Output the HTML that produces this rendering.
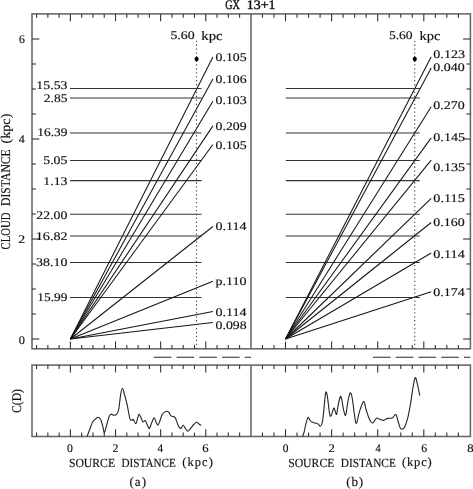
<!DOCTYPE html>
<html><head><meta charset="utf-8"><style>
html,body{margin:0;padding:0;background:#fff;}
svg{display:block;filter:grayscale(1);}
text{font-family:"Liberation Serif", serif;fill:#111;stroke:#111;stroke-width:0.15px;text-rendering:geometricPrecision;}
</style></head><body>
<svg width="473" height="489" viewBox="0 0 473 489">
<rect width="473" height="489" fill="#fff"/>
<rect x="32.0" y="13.9" width="438.40" height="334.90" fill="none" stroke="#6a6a6a" stroke-width="1.6"/>
<line x1="251.00" y1="13.90" x2="251.00" y2="348.80" stroke="#6a6a6a" stroke-width="1.6" />
<rect x="32.0" y="365.1" width="438.40" height="71.40" fill="none" stroke="#6a6a6a" stroke-width="1.6"/>
<line x1="251.00" y1="365.10" x2="251.00" y2="436.50" stroke="#6a6a6a" stroke-width="1.6" />
<line x1="36.56" y1="13.90" x2="36.56" y2="17.80" stroke="#333" stroke-width="1.1" />
<line x1="36.56" y1="348.80" x2="36.56" y2="344.90" stroke="#333" stroke-width="1.1" />
<line x1="36.56" y1="365.10" x2="36.56" y2="369.00" stroke="#333" stroke-width="1.1" />
<line x1="36.56" y1="436.50" x2="36.56" y2="432.60" stroke="#333" stroke-width="1.1" />
<line x1="47.84" y1="13.90" x2="47.84" y2="17.80" stroke="#333" stroke-width="1.1" />
<line x1="47.84" y1="348.80" x2="47.84" y2="344.90" stroke="#333" stroke-width="1.1" />
<line x1="47.84" y1="365.10" x2="47.84" y2="369.00" stroke="#333" stroke-width="1.1" />
<line x1="47.84" y1="436.50" x2="47.84" y2="432.60" stroke="#333" stroke-width="1.1" />
<line x1="59.12" y1="13.90" x2="59.12" y2="17.80" stroke="#333" stroke-width="1.1" />
<line x1="59.12" y1="348.80" x2="59.12" y2="344.90" stroke="#333" stroke-width="1.1" />
<line x1="59.12" y1="365.10" x2="59.12" y2="369.00" stroke="#333" stroke-width="1.1" />
<line x1="59.12" y1="436.50" x2="59.12" y2="432.60" stroke="#333" stroke-width="1.1" />
<line x1="70.40" y1="13.90" x2="70.40" y2="21.20" stroke="#333" stroke-width="1.1" />
<line x1="70.40" y1="348.80" x2="70.40" y2="341.50" stroke="#333" stroke-width="1.1" />
<line x1="70.40" y1="365.10" x2="70.40" y2="372.40" stroke="#333" stroke-width="1.1" />
<line x1="70.40" y1="436.50" x2="70.40" y2="429.20" stroke="#333" stroke-width="1.1" />
<line x1="81.68" y1="13.90" x2="81.68" y2="17.80" stroke="#333" stroke-width="1.1" />
<line x1="81.68" y1="348.80" x2="81.68" y2="344.90" stroke="#333" stroke-width="1.1" />
<line x1="81.68" y1="365.10" x2="81.68" y2="369.00" stroke="#333" stroke-width="1.1" />
<line x1="81.68" y1="436.50" x2="81.68" y2="432.60" stroke="#333" stroke-width="1.1" />
<line x1="92.96" y1="13.90" x2="92.96" y2="17.80" stroke="#333" stroke-width="1.1" />
<line x1="92.96" y1="348.80" x2="92.96" y2="344.90" stroke="#333" stroke-width="1.1" />
<line x1="92.96" y1="365.10" x2="92.96" y2="369.00" stroke="#333" stroke-width="1.1" />
<line x1="92.96" y1="436.50" x2="92.96" y2="432.60" stroke="#333" stroke-width="1.1" />
<line x1="104.24" y1="13.90" x2="104.24" y2="17.80" stroke="#333" stroke-width="1.1" />
<line x1="104.24" y1="348.80" x2="104.24" y2="344.90" stroke="#333" stroke-width="1.1" />
<line x1="104.24" y1="365.10" x2="104.24" y2="369.00" stroke="#333" stroke-width="1.1" />
<line x1="104.24" y1="436.50" x2="104.24" y2="432.60" stroke="#333" stroke-width="1.1" />
<line x1="115.52" y1="13.90" x2="115.52" y2="21.20" stroke="#333" stroke-width="1.1" />
<line x1="115.52" y1="348.80" x2="115.52" y2="341.50" stroke="#333" stroke-width="1.1" />
<line x1="115.52" y1="365.10" x2="115.52" y2="372.40" stroke="#333" stroke-width="1.1" />
<line x1="115.52" y1="436.50" x2="115.52" y2="429.20" stroke="#333" stroke-width="1.1" />
<line x1="126.80" y1="13.90" x2="126.80" y2="17.80" stroke="#333" stroke-width="1.1" />
<line x1="126.80" y1="348.80" x2="126.80" y2="344.90" stroke="#333" stroke-width="1.1" />
<line x1="126.80" y1="365.10" x2="126.80" y2="369.00" stroke="#333" stroke-width="1.1" />
<line x1="126.80" y1="436.50" x2="126.80" y2="432.60" stroke="#333" stroke-width="1.1" />
<line x1="138.08" y1="13.90" x2="138.08" y2="17.80" stroke="#333" stroke-width="1.1" />
<line x1="138.08" y1="348.80" x2="138.08" y2="344.90" stroke="#333" stroke-width="1.1" />
<line x1="138.08" y1="365.10" x2="138.08" y2="369.00" stroke="#333" stroke-width="1.1" />
<line x1="138.08" y1="436.50" x2="138.08" y2="432.60" stroke="#333" stroke-width="1.1" />
<line x1="149.36" y1="13.90" x2="149.36" y2="17.80" stroke="#333" stroke-width="1.1" />
<line x1="149.36" y1="348.80" x2="149.36" y2="344.90" stroke="#333" stroke-width="1.1" />
<line x1="149.36" y1="365.10" x2="149.36" y2="369.00" stroke="#333" stroke-width="1.1" />
<line x1="149.36" y1="436.50" x2="149.36" y2="432.60" stroke="#333" stroke-width="1.1" />
<line x1="160.64" y1="13.90" x2="160.64" y2="21.20" stroke="#333" stroke-width="1.1" />
<line x1="160.64" y1="348.80" x2="160.64" y2="341.50" stroke="#333" stroke-width="1.1" />
<line x1="160.64" y1="365.10" x2="160.64" y2="372.40" stroke="#333" stroke-width="1.1" />
<line x1="160.64" y1="436.50" x2="160.64" y2="429.20" stroke="#333" stroke-width="1.1" />
<line x1="171.92" y1="13.90" x2="171.92" y2="17.80" stroke="#333" stroke-width="1.1" />
<line x1="171.92" y1="348.80" x2="171.92" y2="344.90" stroke="#333" stroke-width="1.1" />
<line x1="171.92" y1="365.10" x2="171.92" y2="369.00" stroke="#333" stroke-width="1.1" />
<line x1="171.92" y1="436.50" x2="171.92" y2="432.60" stroke="#333" stroke-width="1.1" />
<line x1="183.20" y1="13.90" x2="183.20" y2="17.80" stroke="#333" stroke-width="1.1" />
<line x1="183.20" y1="348.80" x2="183.20" y2="344.90" stroke="#333" stroke-width="1.1" />
<line x1="183.20" y1="365.10" x2="183.20" y2="369.00" stroke="#333" stroke-width="1.1" />
<line x1="183.20" y1="436.50" x2="183.20" y2="432.60" stroke="#333" stroke-width="1.1" />
<line x1="194.48" y1="13.90" x2="194.48" y2="17.80" stroke="#333" stroke-width="1.1" />
<line x1="194.48" y1="348.80" x2="194.48" y2="344.90" stroke="#333" stroke-width="1.1" />
<line x1="194.48" y1="365.10" x2="194.48" y2="369.00" stroke="#333" stroke-width="1.1" />
<line x1="194.48" y1="436.50" x2="194.48" y2="432.60" stroke="#333" stroke-width="1.1" />
<line x1="205.76" y1="13.90" x2="205.76" y2="21.20" stroke="#333" stroke-width="1.1" />
<line x1="205.76" y1="348.80" x2="205.76" y2="341.50" stroke="#333" stroke-width="1.1" />
<line x1="205.76" y1="365.10" x2="205.76" y2="372.40" stroke="#333" stroke-width="1.1" />
<line x1="205.76" y1="436.50" x2="205.76" y2="429.20" stroke="#333" stroke-width="1.1" />
<line x1="217.04" y1="13.90" x2="217.04" y2="17.80" stroke="#333" stroke-width="1.1" />
<line x1="217.04" y1="348.80" x2="217.04" y2="344.90" stroke="#333" stroke-width="1.1" />
<line x1="217.04" y1="365.10" x2="217.04" y2="369.00" stroke="#333" stroke-width="1.1" />
<line x1="217.04" y1="436.50" x2="217.04" y2="432.60" stroke="#333" stroke-width="1.1" />
<line x1="228.32" y1="13.90" x2="228.32" y2="17.80" stroke="#333" stroke-width="1.1" />
<line x1="228.32" y1="348.80" x2="228.32" y2="344.90" stroke="#333" stroke-width="1.1" />
<line x1="228.32" y1="365.10" x2="228.32" y2="369.00" stroke="#333" stroke-width="1.1" />
<line x1="228.32" y1="436.50" x2="228.32" y2="432.60" stroke="#333" stroke-width="1.1" />
<line x1="239.60" y1="13.90" x2="239.60" y2="17.80" stroke="#333" stroke-width="1.1" />
<line x1="239.60" y1="348.80" x2="239.60" y2="344.90" stroke="#333" stroke-width="1.1" />
<line x1="239.60" y1="365.10" x2="239.60" y2="369.00" stroke="#333" stroke-width="1.1" />
<line x1="239.60" y1="436.50" x2="239.60" y2="432.60" stroke="#333" stroke-width="1.1" />
<line x1="262.45" y1="13.90" x2="262.45" y2="17.80" stroke="#333" stroke-width="1.1" />
<line x1="262.45" y1="348.80" x2="262.45" y2="344.90" stroke="#333" stroke-width="1.1" />
<line x1="262.45" y1="365.10" x2="262.45" y2="369.00" stroke="#333" stroke-width="1.1" />
<line x1="262.45" y1="436.50" x2="262.45" y2="432.60" stroke="#333" stroke-width="1.1" />
<line x1="273.98" y1="13.90" x2="273.98" y2="17.80" stroke="#333" stroke-width="1.1" />
<line x1="273.98" y1="348.80" x2="273.98" y2="344.90" stroke="#333" stroke-width="1.1" />
<line x1="273.98" y1="365.10" x2="273.98" y2="369.00" stroke="#333" stroke-width="1.1" />
<line x1="273.98" y1="436.50" x2="273.98" y2="432.60" stroke="#333" stroke-width="1.1" />
<line x1="285.50" y1="13.90" x2="285.50" y2="21.20" stroke="#333" stroke-width="1.1" />
<line x1="285.50" y1="348.80" x2="285.50" y2="341.50" stroke="#333" stroke-width="1.1" />
<line x1="285.50" y1="365.10" x2="285.50" y2="372.40" stroke="#333" stroke-width="1.1" />
<line x1="285.50" y1="436.50" x2="285.50" y2="429.20" stroke="#333" stroke-width="1.1" />
<line x1="297.02" y1="13.90" x2="297.02" y2="17.80" stroke="#333" stroke-width="1.1" />
<line x1="297.02" y1="348.80" x2="297.02" y2="344.90" stroke="#333" stroke-width="1.1" />
<line x1="297.02" y1="365.10" x2="297.02" y2="369.00" stroke="#333" stroke-width="1.1" />
<line x1="297.02" y1="436.50" x2="297.02" y2="432.60" stroke="#333" stroke-width="1.1" />
<line x1="308.55" y1="13.90" x2="308.55" y2="17.80" stroke="#333" stroke-width="1.1" />
<line x1="308.55" y1="348.80" x2="308.55" y2="344.90" stroke="#333" stroke-width="1.1" />
<line x1="308.55" y1="365.10" x2="308.55" y2="369.00" stroke="#333" stroke-width="1.1" />
<line x1="308.55" y1="436.50" x2="308.55" y2="432.60" stroke="#333" stroke-width="1.1" />
<line x1="320.07" y1="13.90" x2="320.07" y2="17.80" stroke="#333" stroke-width="1.1" />
<line x1="320.07" y1="348.80" x2="320.07" y2="344.90" stroke="#333" stroke-width="1.1" />
<line x1="320.07" y1="365.10" x2="320.07" y2="369.00" stroke="#333" stroke-width="1.1" />
<line x1="320.07" y1="436.50" x2="320.07" y2="432.60" stroke="#333" stroke-width="1.1" />
<line x1="331.60" y1="13.90" x2="331.60" y2="21.20" stroke="#333" stroke-width="1.1" />
<line x1="331.60" y1="348.80" x2="331.60" y2="341.50" stroke="#333" stroke-width="1.1" />
<line x1="331.60" y1="365.10" x2="331.60" y2="372.40" stroke="#333" stroke-width="1.1" />
<line x1="331.60" y1="436.50" x2="331.60" y2="429.20" stroke="#333" stroke-width="1.1" />
<line x1="343.12" y1="13.90" x2="343.12" y2="17.80" stroke="#333" stroke-width="1.1" />
<line x1="343.12" y1="348.80" x2="343.12" y2="344.90" stroke="#333" stroke-width="1.1" />
<line x1="343.12" y1="365.10" x2="343.12" y2="369.00" stroke="#333" stroke-width="1.1" />
<line x1="343.12" y1="436.50" x2="343.12" y2="432.60" stroke="#333" stroke-width="1.1" />
<line x1="354.65" y1="13.90" x2="354.65" y2="17.80" stroke="#333" stroke-width="1.1" />
<line x1="354.65" y1="348.80" x2="354.65" y2="344.90" stroke="#333" stroke-width="1.1" />
<line x1="354.65" y1="365.10" x2="354.65" y2="369.00" stroke="#333" stroke-width="1.1" />
<line x1="354.65" y1="436.50" x2="354.65" y2="432.60" stroke="#333" stroke-width="1.1" />
<line x1="366.18" y1="13.90" x2="366.18" y2="17.80" stroke="#333" stroke-width="1.1" />
<line x1="366.18" y1="348.80" x2="366.18" y2="344.90" stroke="#333" stroke-width="1.1" />
<line x1="366.18" y1="365.10" x2="366.18" y2="369.00" stroke="#333" stroke-width="1.1" />
<line x1="366.18" y1="436.50" x2="366.18" y2="432.60" stroke="#333" stroke-width="1.1" />
<line x1="377.70" y1="13.90" x2="377.70" y2="21.20" stroke="#333" stroke-width="1.1" />
<line x1="377.70" y1="348.80" x2="377.70" y2="341.50" stroke="#333" stroke-width="1.1" />
<line x1="377.70" y1="365.10" x2="377.70" y2="372.40" stroke="#333" stroke-width="1.1" />
<line x1="377.70" y1="436.50" x2="377.70" y2="429.20" stroke="#333" stroke-width="1.1" />
<line x1="389.23" y1="13.90" x2="389.23" y2="17.80" stroke="#333" stroke-width="1.1" />
<line x1="389.23" y1="348.80" x2="389.23" y2="344.90" stroke="#333" stroke-width="1.1" />
<line x1="389.23" y1="365.10" x2="389.23" y2="369.00" stroke="#333" stroke-width="1.1" />
<line x1="389.23" y1="436.50" x2="389.23" y2="432.60" stroke="#333" stroke-width="1.1" />
<line x1="400.75" y1="13.90" x2="400.75" y2="17.80" stroke="#333" stroke-width="1.1" />
<line x1="400.75" y1="348.80" x2="400.75" y2="344.90" stroke="#333" stroke-width="1.1" />
<line x1="400.75" y1="365.10" x2="400.75" y2="369.00" stroke="#333" stroke-width="1.1" />
<line x1="400.75" y1="436.50" x2="400.75" y2="432.60" stroke="#333" stroke-width="1.1" />
<line x1="412.27" y1="13.90" x2="412.27" y2="17.80" stroke="#333" stroke-width="1.1" />
<line x1="412.27" y1="348.80" x2="412.27" y2="344.90" stroke="#333" stroke-width="1.1" />
<line x1="412.27" y1="365.10" x2="412.27" y2="369.00" stroke="#333" stroke-width="1.1" />
<line x1="412.27" y1="436.50" x2="412.27" y2="432.60" stroke="#333" stroke-width="1.1" />
<line x1="423.80" y1="13.90" x2="423.80" y2="21.20" stroke="#333" stroke-width="1.1" />
<line x1="423.80" y1="348.80" x2="423.80" y2="341.50" stroke="#333" stroke-width="1.1" />
<line x1="423.80" y1="365.10" x2="423.80" y2="372.40" stroke="#333" stroke-width="1.1" />
<line x1="423.80" y1="436.50" x2="423.80" y2="429.20" stroke="#333" stroke-width="1.1" />
<line x1="435.33" y1="13.90" x2="435.33" y2="17.80" stroke="#333" stroke-width="1.1" />
<line x1="435.33" y1="348.80" x2="435.33" y2="344.90" stroke="#333" stroke-width="1.1" />
<line x1="435.33" y1="365.10" x2="435.33" y2="369.00" stroke="#333" stroke-width="1.1" />
<line x1="435.33" y1="436.50" x2="435.33" y2="432.60" stroke="#333" stroke-width="1.1" />
<line x1="446.85" y1="13.90" x2="446.85" y2="17.80" stroke="#333" stroke-width="1.1" />
<line x1="446.85" y1="348.80" x2="446.85" y2="344.90" stroke="#333" stroke-width="1.1" />
<line x1="446.85" y1="365.10" x2="446.85" y2="369.00" stroke="#333" stroke-width="1.1" />
<line x1="446.85" y1="436.50" x2="446.85" y2="432.60" stroke="#333" stroke-width="1.1" />
<line x1="458.38" y1="13.90" x2="458.38" y2="17.80" stroke="#333" stroke-width="1.1" />
<line x1="458.38" y1="348.80" x2="458.38" y2="344.90" stroke="#333" stroke-width="1.1" />
<line x1="458.38" y1="365.10" x2="458.38" y2="369.00" stroke="#333" stroke-width="1.1" />
<line x1="458.38" y1="436.50" x2="458.38" y2="432.60" stroke="#333" stroke-width="1.1" />
<line x1="32.00" y1="339.00" x2="39.30" y2="339.00" stroke="#333" stroke-width="1.1" />
<line x1="470.40" y1="339.00" x2="463.10" y2="339.00" stroke="#333" stroke-width="1.1" />
<line x1="32.00" y1="314.00" x2="35.90" y2="314.00" stroke="#333" stroke-width="1.1" />
<line x1="470.40" y1="314.00" x2="466.50" y2="314.00" stroke="#333" stroke-width="1.1" />
<line x1="32.00" y1="289.00" x2="35.90" y2="289.00" stroke="#333" stroke-width="1.1" />
<line x1="470.40" y1="289.00" x2="466.50" y2="289.00" stroke="#333" stroke-width="1.1" />
<line x1="32.00" y1="264.00" x2="35.90" y2="264.00" stroke="#333" stroke-width="1.1" />
<line x1="470.40" y1="264.00" x2="466.50" y2="264.00" stroke="#333" stroke-width="1.1" />
<line x1="32.00" y1="239.00" x2="39.30" y2="239.00" stroke="#333" stroke-width="1.1" />
<line x1="470.40" y1="239.00" x2="463.10" y2="239.00" stroke="#333" stroke-width="1.1" />
<line x1="32.00" y1="214.00" x2="35.90" y2="214.00" stroke="#333" stroke-width="1.1" />
<line x1="470.40" y1="214.00" x2="466.50" y2="214.00" stroke="#333" stroke-width="1.1" />
<line x1="32.00" y1="189.00" x2="35.90" y2="189.00" stroke="#333" stroke-width="1.1" />
<line x1="470.40" y1="189.00" x2="466.50" y2="189.00" stroke="#333" stroke-width="1.1" />
<line x1="32.00" y1="164.00" x2="35.90" y2="164.00" stroke="#333" stroke-width="1.1" />
<line x1="470.40" y1="164.00" x2="466.50" y2="164.00" stroke="#333" stroke-width="1.1" />
<line x1="32.00" y1="139.00" x2="39.30" y2="139.00" stroke="#333" stroke-width="1.1" />
<line x1="470.40" y1="139.00" x2="463.10" y2="139.00" stroke="#333" stroke-width="1.1" />
<line x1="32.00" y1="114.00" x2="35.90" y2="114.00" stroke="#333" stroke-width="1.1" />
<line x1="470.40" y1="114.00" x2="466.50" y2="114.00" stroke="#333" stroke-width="1.1" />
<line x1="32.00" y1="89.00" x2="35.90" y2="89.00" stroke="#333" stroke-width="1.1" />
<line x1="470.40" y1="89.00" x2="466.50" y2="89.00" stroke="#333" stroke-width="1.1" />
<line x1="32.00" y1="64.00" x2="35.90" y2="64.00" stroke="#333" stroke-width="1.1" />
<line x1="470.40" y1="64.00" x2="466.50" y2="64.00" stroke="#333" stroke-width="1.1" />
<line x1="32.00" y1="39.00" x2="39.30" y2="39.00" stroke="#333" stroke-width="1.1" />
<line x1="470.40" y1="39.00" x2="463.10" y2="39.00" stroke="#333" stroke-width="1.1" />
<line x1="70.00" y1="88.50" x2="201.50" y2="88.50" stroke="#333" stroke-width="1.05" />
<line x1="285.80" y1="88.50" x2="419.80" y2="88.50" stroke="#333" stroke-width="1.05" />
<line x1="70.00" y1="98.00" x2="201.50" y2="98.00" stroke="#333" stroke-width="1.05" />
<line x1="285.80" y1="98.00" x2="419.80" y2="98.00" stroke="#333" stroke-width="1.05" />
<line x1="70.00" y1="133.00" x2="201.50" y2="133.00" stroke="#333" stroke-width="1.05" />
<line x1="285.80" y1="133.00" x2="419.80" y2="133.00" stroke="#333" stroke-width="1.05" />
<line x1="70.00" y1="160.50" x2="201.50" y2="160.50" stroke="#333" stroke-width="1.05" />
<line x1="285.80" y1="160.50" x2="419.80" y2="160.50" stroke="#333" stroke-width="1.05" />
<line x1="70.00" y1="180.60" x2="201.50" y2="180.60" stroke="#333" stroke-width="1.05" />
<line x1="285.80" y1="180.60" x2="419.80" y2="180.60" stroke="#333" stroke-width="1.05" />
<line x1="70.00" y1="214.30" x2="201.50" y2="214.30" stroke="#333" stroke-width="1.05" />
<line x1="285.80" y1="214.30" x2="419.80" y2="214.30" stroke="#333" stroke-width="1.05" />
<line x1="70.00" y1="236.00" x2="201.50" y2="236.00" stroke="#333" stroke-width="1.05" />
<line x1="285.80" y1="236.00" x2="419.80" y2="236.00" stroke="#333" stroke-width="1.05" />
<line x1="70.00" y1="262.50" x2="201.50" y2="262.50" stroke="#333" stroke-width="1.05" />
<line x1="285.80" y1="262.50" x2="419.80" y2="262.50" stroke="#333" stroke-width="1.05" />
<line x1="70.00" y1="297.40" x2="201.50" y2="297.40" stroke="#333" stroke-width="1.05" />
<line x1="285.80" y1="297.40" x2="419.80" y2="297.40" stroke="#333" stroke-width="1.05" />
<line x1="70.40" y1="339.00" x2="212.90" y2="56.90" stroke="#151515" stroke-width="1.05" />
<line x1="70.40" y1="339.00" x2="212.90" y2="78.90" stroke="#151515" stroke-width="1.05" />
<line x1="70.40" y1="339.00" x2="212.90" y2="101.30" stroke="#151515" stroke-width="1.05" />
<line x1="70.40" y1="339.00" x2="212.90" y2="125.90" stroke="#151515" stroke-width="1.05" />
<line x1="70.40" y1="339.00" x2="212.90" y2="144.50" stroke="#151515" stroke-width="1.05" />
<line x1="70.40" y1="339.00" x2="212.90" y2="226.50" stroke="#151515" stroke-width="1.05" />
<line x1="70.40" y1="339.00" x2="212.90" y2="281.30" stroke="#151515" stroke-width="1.05" />
<line x1="70.40" y1="339.00" x2="212.90" y2="311.50" stroke="#151515" stroke-width="1.05" />
<line x1="70.40" y1="339.00" x2="212.90" y2="322.50" stroke="#151515" stroke-width="1.05" />
<line x1="285.50" y1="339.00" x2="431.20" y2="56.70" stroke="#151515" stroke-width="1.05" />
<line x1="285.50" y1="339.00" x2="431.20" y2="67.90" stroke="#151515" stroke-width="1.05" />
<line x1="285.50" y1="339.00" x2="431.20" y2="106.80" stroke="#151515" stroke-width="1.05" />
<line x1="285.50" y1="339.00" x2="431.20" y2="137.90" stroke="#151515" stroke-width="1.05" />
<line x1="285.50" y1="339.00" x2="431.20" y2="160.20" stroke="#151515" stroke-width="1.05" />
<line x1="285.50" y1="339.00" x2="431.20" y2="198.30" stroke="#151515" stroke-width="1.05" />
<line x1="285.50" y1="339.00" x2="431.20" y2="222.50" stroke="#151515" stroke-width="1.05" />
<line x1="285.50" y1="339.00" x2="431.20" y2="253.00" stroke="#151515" stroke-width="1.05" />
<line x1="285.50" y1="339.00" x2="431.20" y2="291.80" stroke="#151515" stroke-width="1.05" />
<line x1="196.50" y1="40.65" x2="196.50" y2="348.80" stroke="#4a4a4a" stroke-width="1.15" stroke-dasharray="1.3 2.636"/>
<path d="M196.60 56.3 L198.10 57.4 L198.75 59.0 L198.10 60.6 L196.60 61.7 L195.10 60.6 L194.45 59.0 L195.10 57.4Z" fill="#000"/>
<line x1="414.70" y1="40.65" x2="414.70" y2="348.80" stroke="#4a4a4a" stroke-width="1.15" stroke-dasharray="1.3 2.636"/>
<path d="M414.80 56.3 L416.30 57.4 L416.95 59.0 L416.30 60.6 L414.80 61.7 L413.30 60.6 L412.65 59.0 L413.30 57.4Z" fill="#000"/>
<line x1="153.75" y1="357.30" x2="251.00" y2="357.30" stroke="#2a2a2a" stroke-width="1.05" stroke-dasharray="17.65 5.12"/>
<line x1="372.90" y1="357.30" x2="470.40" y2="357.30" stroke="#2a2a2a" stroke-width="1.05" stroke-dasharray="17.65 5.12"/>
<path d="M87.10 436.40 C87.52 435.30 88.68 432.18 89.60 429.80 C90.52 427.42 91.73 423.78 92.60 422.10 C93.47 420.42 93.93 420.52 94.80 419.70 C95.67 418.88 96.82 417.25 97.80 417.20 C98.78 417.15 99.85 417.80 100.70 419.40 C101.55 421.00 102.28 424.58 102.90 426.80 C103.52 429.02 103.78 432.95 104.40 432.70 C105.02 432.45 105.85 427.88 106.60 425.30 C107.35 422.72 108.15 419.05 108.90 417.20 C109.65 415.35 110.25 414.52 111.10 414.20 C111.95 413.88 113.02 415.37 114.00 415.30 C114.98 415.23 116.20 414.85 117.00 413.80 C117.80 412.75 118.18 412.27 118.80 409.00 C119.42 405.73 120.08 397.65 120.70 394.20 C121.32 390.75 121.88 388.30 122.50 388.30 C123.12 388.30 123.63 391.48 124.40 394.20 C125.17 396.92 126.37 401.38 127.10 404.60 C127.83 407.82 128.27 410.98 128.80 413.50 C129.33 416.02 129.68 418.60 130.30 419.70 C130.92 420.80 132.00 420.15 132.50 420.10 C133.00 420.05 132.73 418.78 133.30 419.40 C133.87 420.02 135.17 424.05 135.90 423.80 C136.63 423.55 137.15 419.50 137.70 417.90 C138.25 416.30 138.57 414.02 139.20 414.20 C139.83 414.38 140.87 417.70 141.50 419.00 C142.13 420.30 142.38 421.75 143.00 422.00 C143.62 422.25 144.58 420.25 145.20 420.50 C145.82 420.75 146.03 422.13 146.70 423.50 C147.37 424.87 148.47 428.58 149.20 428.70 C149.93 428.82 150.28 426.00 151.10 424.20 C151.92 422.40 153.23 418.15 154.10 417.90 C154.97 417.65 155.63 421.52 156.30 422.70 C156.97 423.88 157.48 425.37 158.10 425.00 C158.72 424.63 159.32 422.23 160.00 420.50 C160.68 418.77 161.47 415.95 162.20 414.60 C162.93 413.25 163.62 412.95 164.40 412.40 C165.18 411.85 166.15 411.30 166.90 411.30 C167.65 411.30 168.20 411.65 168.90 412.40 C169.60 413.15 170.25 415.07 171.10 415.80 C171.95 416.53 173.27 416.38 174.00 416.80 C174.73 417.22 174.88 417.07 175.50 418.30 C176.12 419.53 177.00 422.60 177.70 424.20 C178.40 425.80 179.13 427.23 179.70 427.90 C180.27 428.57 180.52 428.63 181.10 428.20 C181.68 427.77 182.53 425.35 183.20 425.30 C183.87 425.25 184.35 426.92 185.10 427.90 C185.85 428.88 186.83 431.07 187.70 431.20 C188.57 431.33 189.37 429.73 190.30 428.70 C191.23 427.67 192.27 426.07 193.30 425.00 C194.33 423.93 195.52 422.43 196.50 422.30 C197.48 422.17 198.38 423.70 199.20 424.20 C200.02 424.70 201.03 425.12 201.40 425.30" fill="none" stroke="#222" stroke-width="1.1"/>
<path d="M302.60 436.60 C302.85 435.87 303.53 434.42 304.10 432.20 C304.67 429.98 305.33 425.77 306.00 423.30 C306.67 420.83 307.43 417.90 308.10 417.40 C308.77 416.90 309.37 419.52 310.00 420.30 C310.63 421.08 311.03 421.65 311.90 422.10 C312.77 422.55 314.17 422.68 315.20 423.00 C316.23 423.32 317.25 423.47 318.10 424.00 C318.95 424.53 319.60 426.45 320.30 426.20 C321.00 425.95 321.73 424.97 322.30 422.50 C322.87 420.03 323.28 415.22 323.70 411.40 C324.12 407.58 324.45 402.80 324.80 399.60 C325.15 396.40 325.43 393.07 325.80 392.20 C326.17 391.33 326.60 392.67 327.00 394.40 C327.40 396.13 327.83 399.77 328.20 402.60 C328.57 405.43 328.85 409.13 329.20 411.40 C329.55 413.67 329.88 415.70 330.30 416.20 C330.72 416.70 331.13 415.73 331.70 414.40 C332.27 413.07 333.13 408.82 333.70 408.20 C334.27 407.58 334.62 409.67 335.10 410.70 C335.58 411.73 336.10 415.27 336.60 414.40 C337.10 413.53 337.48 408.47 338.10 405.50 C338.72 402.53 339.68 397.58 340.30 396.60 C340.92 395.62 341.30 397.62 341.80 399.60 C342.30 401.58 342.75 405.92 343.30 408.50 C343.85 411.08 344.62 414.37 345.10 415.10 C345.58 415.83 345.77 414.98 346.20 412.90 C346.63 410.82 347.08 405.85 347.70 402.60 C348.32 399.35 349.28 394.77 349.90 393.40 C350.52 392.03 350.90 392.87 351.40 394.40 C351.90 395.93 352.40 399.27 352.90 402.60 C353.40 405.93 353.82 410.90 354.40 414.40 C354.98 417.90 355.60 423.90 356.40 423.60 C357.20 423.30 358.02 416.28 359.20 412.60 C360.38 408.92 362.35 402.02 363.50 401.50 C364.65 400.98 365.15 406.63 366.10 409.50 C367.05 412.37 368.10 416.45 369.20 418.70 C370.30 420.95 371.68 422.87 372.70 423.00 C373.72 423.13 374.53 420.33 375.30 419.50 C376.07 418.67 376.53 418.00 377.30 418.00 C378.07 418.00 378.82 419.12 379.90 419.50 C380.98 419.88 382.52 420.48 383.80 420.30 C385.08 420.12 386.20 418.78 387.60 418.40 C389.00 418.02 390.85 418.67 392.20 418.00 C393.55 417.33 394.80 414.15 395.70 414.40 C396.60 414.65 396.90 417.37 397.60 419.50 C398.30 421.63 399.18 425.58 399.90 427.20 C400.62 428.82 401.13 429.20 401.90 429.20 C402.67 429.20 403.55 428.95 404.50 427.20 C405.45 425.45 406.58 422.67 407.60 418.70 C408.62 414.73 409.72 408.52 410.60 403.40 C411.48 398.28 412.13 392.30 412.90 388.00 C413.67 383.70 414.48 378.37 415.20 377.60 C415.92 376.83 416.43 380.38 417.20 383.40 C417.97 386.42 419.37 393.65 419.80 395.70" fill="none" stroke="#222" stroke-width="1.1"/>
<text x="225.32" y="8.80" font-size="13.00" textLength="14.62" lengthAdjust="spacingAndGlyphs" style="stroke-width:0.4px">GX</text>
<text x="246.73" y="8.80" font-size="13.00" textLength="28.79" lengthAdjust="spacingAndGlyphs" style="stroke-width:0.4px">13+1</text>
<text x="170.46" y="39.41" font-size="11.70" textLength="24.11" lengthAdjust="spacingAndGlyphs">5.60</text>
<text x="201.27" y="39.60" font-size="13.00" textLength="21.41" lengthAdjust="spacingAndGlyphs">kpc</text>
<text x="388.92" y="39.41" font-size="11.70" textLength="23.70" lengthAdjust="spacingAndGlyphs">5.60</text>
<text x="419.45" y="39.60" font-size="13.00" textLength="20.95" lengthAdjust="spacingAndGlyphs">kpc</text>
<text x="18.92" y="43.16" font-size="11.70" textLength="5.91" lengthAdjust="spacingAndGlyphs">6</text>
<text x="18.79" y="142.60" font-size="11.70" textLength="6.02" lengthAdjust="spacingAndGlyphs">4</text>
<text x="18.28" y="242.65" font-size="11.70" textLength="6.98" lengthAdjust="spacingAndGlyphs">2</text>
<text x="18.69" y="343.53" font-size="11.70" textLength="6.18" lengthAdjust="spacingAndGlyphs">0</text>
<text x="36.38" y="89.43" font-size="11.70" textLength="31.06" lengthAdjust="spacingAndGlyphs">15.53</text>
<text x="43.75" y="101.98" font-size="11.70" textLength="23.65" lengthAdjust="spacingAndGlyphs">2.85</text>
<text x="37.35" y="136.42" font-size="11.70" textLength="30.05" lengthAdjust="spacingAndGlyphs">16.39</text>
<text x="43.26" y="164.25" font-size="11.70" textLength="24.11" lengthAdjust="spacingAndGlyphs">5.05</text>
<text x="43.37" y="184.56" font-size="11.70" textLength="24.01" lengthAdjust="spacingAndGlyphs">1.13</text>
<text x="36.38" y="218.65" font-size="11.70" textLength="31.01" lengthAdjust="spacingAndGlyphs">22.00</text>
<text x="35.74" y="239.90" font-size="11.70" textLength="32.00" lengthAdjust="spacingAndGlyphs">16.82</text>
<text x="36.09" y="266.47" font-size="11.70" textLength="31.29" lengthAdjust="spacingAndGlyphs">38.10</text>
<text x="37.31" y="300.67" font-size="11.70" textLength="30.16" lengthAdjust="spacingAndGlyphs">15.99</text>
<text x="215.54" y="60.62" font-size="11.70" textLength="31.10" lengthAdjust="spacingAndGlyphs">0.105</text>
<text x="215.54" y="82.66" font-size="11.70" textLength="31.17" lengthAdjust="spacingAndGlyphs">0.106</text>
<text x="215.54" y="104.49" font-size="11.70" textLength="31.10" lengthAdjust="spacingAndGlyphs">0.103</text>
<text x="215.54" y="130.28" font-size="11.70" textLength="31.10" lengthAdjust="spacingAndGlyphs">0.209</text>
<text x="215.54" y="148.62" font-size="11.70" textLength="31.10" lengthAdjust="spacingAndGlyphs">0.105</text>
<text x="215.54" y="230.44" font-size="11.70" textLength="31.10" lengthAdjust="spacingAndGlyphs">0.114</text>
<text x="215.55" y="284.70" font-size="11.70" textLength="31.08" lengthAdjust="spacingAndGlyphs">p.110</text>
<text x="215.54" y="315.68" font-size="11.70" textLength="31.10" lengthAdjust="spacingAndGlyphs">0.114</text>
<text x="215.54" y="328.62" font-size="11.70" textLength="31.10" lengthAdjust="spacingAndGlyphs">0.098</text>
<text x="433.34" y="58.28" font-size="11.70" textLength="31.72" lengthAdjust="spacingAndGlyphs">0.123</text>
<text x="433.34" y="71.28" font-size="11.70" textLength="31.41" lengthAdjust="spacingAndGlyphs">0.040</text>
<text x="433.34" y="108.53" font-size="11.70" textLength="31.41" lengthAdjust="spacingAndGlyphs">0.270</text>
<text x="433.34" y="141.49" font-size="11.70" textLength="31.72" lengthAdjust="spacingAndGlyphs">0.145</text>
<text x="433.34" y="171.46" font-size="11.70" textLength="31.72" lengthAdjust="spacingAndGlyphs">0.135</text>
<text x="433.34" y="202.44" font-size="11.70" textLength="31.41" lengthAdjust="spacingAndGlyphs">0.115</text>
<text x="433.34" y="226.49" font-size="11.70" textLength="31.41" lengthAdjust="spacingAndGlyphs">0.160</text>
<text x="433.34" y="257.55" font-size="11.70" textLength="31.41" lengthAdjust="spacingAndGlyphs">0.114</text>
<text x="433.34" y="295.62" font-size="11.70" textLength="31.41" lengthAdjust="spacingAndGlyphs">0.174</text>
<text x="66.91" y="451.50" font-size="11.70" textLength="5.91" lengthAdjust="spacingAndGlyphs">0</text>
<text x="112.42" y="451.50" font-size="11.70" textLength="5.91" lengthAdjust="spacingAndGlyphs">2</text>
<text x="157.54" y="451.50" font-size="11.70" textLength="5.60" lengthAdjust="spacingAndGlyphs">4</text>
<text x="202.33" y="451.50" font-size="11.70" textLength="6.37" lengthAdjust="spacingAndGlyphs">6</text>
<text x="282.70" y="451.50" font-size="11.70" textLength="5.74" lengthAdjust="spacingAndGlyphs">0</text>
<text x="328.47" y="451.50" font-size="11.70" textLength="6.37" lengthAdjust="spacingAndGlyphs">2</text>
<text x="375.60" y="451.50" font-size="11.70" textLength="5.19" lengthAdjust="spacingAndGlyphs">4</text>
<text x="421.35" y="451.50" font-size="11.70" textLength="5.91" lengthAdjust="spacingAndGlyphs">6</text>
<text x="467.35" y="451.50" font-size="11.70" textLength="6.37" lengthAdjust="spacingAndGlyphs">8</text>
<text x="68.93" y="466.90" font-size="12.40" textLength="46.12" lengthAdjust="spacingAndGlyphs">SOURCE</text>
<text x="121.55" y="466.90" font-size="12.40" textLength="54.23" lengthAdjust="spacingAndGlyphs">DISTANCE</text>
<text x="182.29" y="466.30" font-size="12.50" textLength="30.59" lengthAdjust="spacing">(kpc)</text>
<text x="288.14" y="466.90" font-size="12.40" textLength="46.25" lengthAdjust="spacingAndGlyphs">SOURCE</text>
<text x="340.77" y="466.90" font-size="12.40" textLength="55.03" lengthAdjust="spacingAndGlyphs">DISTANCE</text>
<text x="401.93" y="466.30" font-size="12.50" textLength="29.85" lengthAdjust="spacing">(kpc)</text>
<text x="129.48" y="485.60" font-size="13.10" textLength="16.60" lengthAdjust="spacing">(a)</text>
<text x="346.34" y="485.60" font-size="13.10" textLength="16.88" lengthAdjust="spacing">(b)</text>
<text transform="translate(9.75,249.47) rotate(-90)" font-size="13.30" textLength="36.94" lengthAdjust="spacingAndGlyphs">CLOUD</text>
<text transform="translate(9.75,206.00) rotate(-90)" font-size="13.30" textLength="56.69" lengthAdjust="spacingAndGlyphs">DISTANCE</text>
<text transform="translate(9.75,143.60) rotate(-90)" font-size="13.30" textLength="30.04" lengthAdjust="spacingAndGlyphs">(kpc)</text>
<text transform="translate(20.90,413.00) rotate(-90)" font-size="13.30" textLength="23.98" lengthAdjust="spacingAndGlyphs">C(D)</text>
</svg>
</body></html>
